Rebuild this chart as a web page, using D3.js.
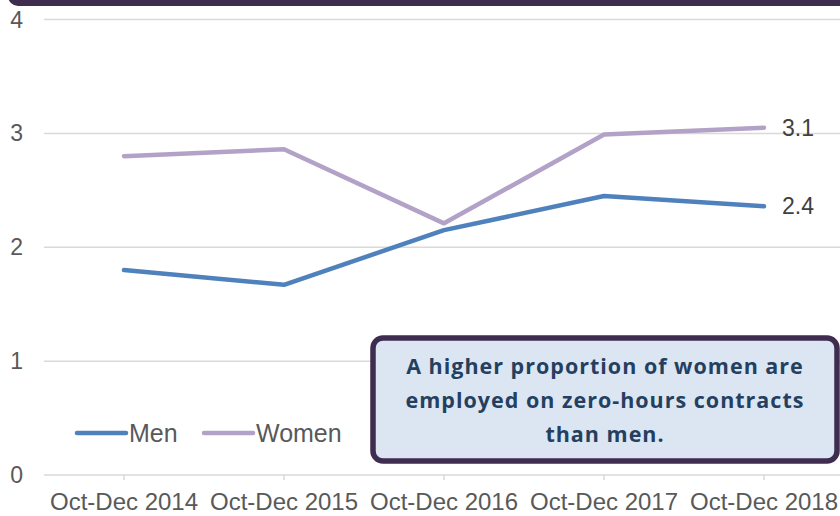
<!DOCTYPE html>
<html>
<head>
<meta charset="utf-8">
<script src="https://cdn.jsdelivr.net/npm/d3@7"></script>
<style>
  body { margin:0; background:#fff; }
  svg { display:block; font-family:"Liberation Sans", Arial, sans-serif; }
</style>
</head>
<body>
<div class="canvas"></div>
<script>
// data
const quarters = ['Oct-Dec 2014', 'Oct-Dec 2015', 'Oct-Dec 2016', 'Oct-Dec 2017', 'Oct-Dec 2018'];
const men   = [1.80, 1.67, 2.15, 2.45, 2.36];
const women = [2.80, 2.86, 2.21, 2.99, 3.05];
const endLabels = ['2.4', '3.1']; // men, women
const yTicks = [0, 1, 2, 3, 4];
const noteLines = ['A higher proportion of women are', 'employed on zero-hours contracts', 'than men.'];

const dims = { width: 840, height: 516 };
const plot = { left: 44, right: 844, top: 19.5, bottom: 475 };

const svg = d3.select('.canvas')
.append('svg')
.attr('width', dims.width)
.attr('height', dims.height);

//------------------------ dark header bar (cut off at the top)
svg.append('rect')
.attr('x', 8).attr('y', -30)
.attr('width', 860).attr('height', 36)
.attr('rx', 10)
.attr('fill', '#3f2d50');

//------------------------ scales
const x = d3.scaleBand()
.domain(quarters)
.range([plot.left, plot.right])
.padding(0);

const y = d3.scaleLinear()
.domain([0, 4])
.range([plot.bottom, plot.top]);

const cx = d => x(d) + x.bandwidth() / 2;

//------------------------ gridlines + y labels
const grid = svg.append('g');
grid.selectAll('line')
.data(yTicks)
.enter().append('line')
.attr('x1', plot.left).attr('x2', dims.width)
.attr('y1', d => y(d)).attr('y2', d => y(d))
.attr('stroke', '#d9d9d9')
.attr('stroke-width', 1.5);

grid.selectAll('text')
.data(yTicks)
.enter().append('text')
.attr('x', 23)
.attr('y', d => y(d) + 8)
.attr('text-anchor', 'end')
.attr('fill', '#595959')
.style('font-size', '23px')
.text(d => d);

//------------------------ x axis (ticks under category centres)
const xAxis = d3.axisBottom(x).tickSize(5).tickPadding(13);
const xg = svg.append('g')
.attr('transform', `translate(0, ${plot.bottom})`)
.call(xAxis);
xg.select('.domain').remove();
xg.attr('font-family', null).attr('font-size', null);
xg.selectAll('line').attr('stroke', '#d9d9d9').attr('stroke-width', 1.5);
xg.selectAll('text')
.attr('fill', '#595959')
.style('font-size', '24px');

//------------------------ lines
const series = [
    { name: 'Men', values: men, color: '#4f81bd', label: endLabels[0] },
    { name: 'Women', values: women, color: '#b3a2c7', label: endLabels[1] }
];

const line = d3.line()
.x((d, i) => cx(quarters[i]))
.y(d => y(d));

// women drawn first so men sits on top where they cross
[series[1], series[0]].forEach(s => {
    svg.append('path')
    .datum(s.values)
    .attr('d', line)
    .attr('fill', 'none')
    .attr('stroke', s.color)
    .attr('stroke-width', 4.5)
    .attr('stroke-linejoin', 'round')
    .attr('stroke-linecap', 'round');

    // end value label
    const last = s.values.length - 1;
    svg.append('text')
    .attr('x', cx(quarters[last]) + 18)
    .attr('y', y(s.values[last]) + 8)
    .attr('fill', '#404040')
    .style('font-size', '23px')
    .text(s.label);
});

//------------------------ legend
const legend = svg.append('g')
.attr('transform', 'translate(77, 433)');

const legendX = [0, 127];
series.forEach((s, i) => {
    const g = legend.append('g').attr('transform', `translate(${legendX[i]}, 0)`);
    g.append('line')
    .attr('x1', 0).attr('x2', 49)
    .attr('y1', 0).attr('y2', 0)
    .attr('stroke', s.color)
    .attr('stroke-width', 4.5)
    .attr('stroke-linecap', 'round');
    g.append('text')
    .attr('x', 52).attr('y', 9)
    .attr('fill', '#595959')
    .style('font-size', '25px')
    .text(s.name);
});

//------------------------ annotation box
const note = svg.append('g');
note.append('rect')
.attr('x', 373).attr('y', 338)
.attr('width', 464).attr('height', 123)
.attr('rx', 10)
.attr('fill', '#dce6f2')
.attr('stroke', '#3f2d50')
.attr('stroke-width', 5.5);

note.selectAll('text')
.data(noteLines)
.enter().append('text')
.attr('x', 605)
.attr('y', (d, i) => 374 + i * 34)
.attr('text-anchor', 'middle')
.attr('fill', '#243f60')
.style('font-family', '"Open Sans", Lato, sans-serif')
.style('font-weight', 'bold')
.style('font-size', '21.5px')
.style('letter-spacing', '1px')
.text(d => d);
</script>
</body>
</html>
